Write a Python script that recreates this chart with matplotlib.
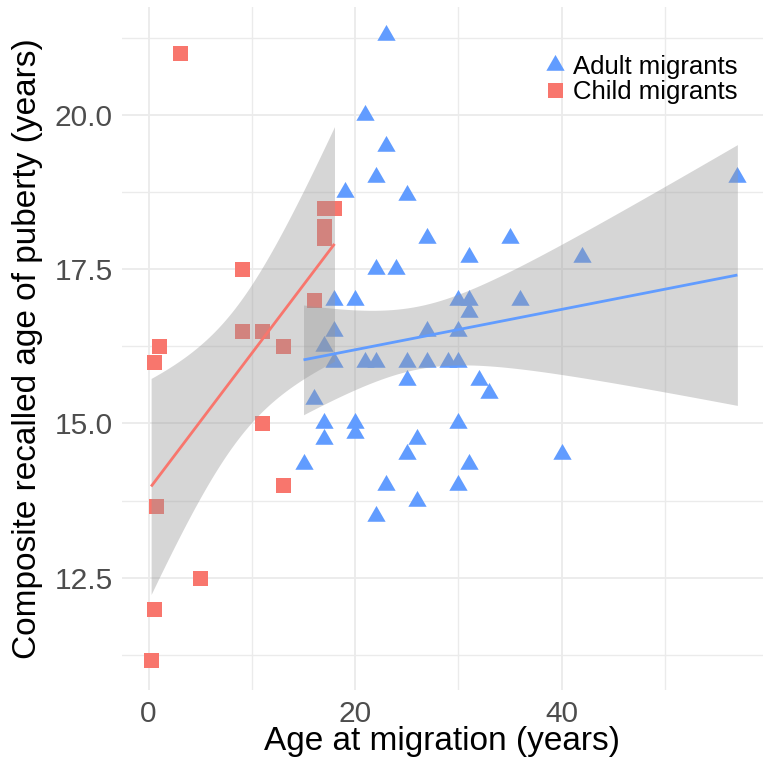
import numpy as np
import matplotlib.pyplot as plt
from matplotlib.lines import Line2D

# Adult migrants (age at migration, composite recalled age of puberty)
ADULT_AGE = [23, 21, 23, 22, 19, 25, 27, 35, 57, 31, 42, 22, 24, 18, 20, 30,
             31, 36, 31, 18, 27, 30, 17, 18, 21, 22, 25, 27, 29, 30, 25, 32,
             33, 16, 17, 20, 30, 17, 20, 26, 15, 25, 31, 40, 23, 30, 26, 22]
ADULT_PUBERTY = [21.3, 20.0, 19.5, 19.0, 18.75, 18.7, 18.0, 18.0, 19.0, 17.7,
                 17.7, 17.5, 17.5, 17.0, 17.0, 17.0, 17.0, 17.0, 16.8, 16.5,
                 16.5, 16.5, 16.25, 16.0, 16.0, 16.0, 16.0, 16.0, 16.0, 16.0,
                 15.7, 15.7, 15.5, 15.4, 15.0, 15.0, 15.0, 14.75, 14.85, 14.75,
                 14.35, 14.5, 14.35, 14.5, 14.0, 14.0, 13.75, 13.5]

# Child migrants
CHILD_AGE = [3, 17, 18, 17, 17, 9, 16, 9, 11, 13, 1, 0.5, 11, 13, 0.75, 5,
             0.5, 0.5, 0.25]
CHILD_PUBERTY = [21.0, 18.5, 18.5, 18.2, 18.0, 17.5, 17.0, 16.5, 16.5, 16.25,
                 16.25, 16.0, 15.0, 14.0, 13.67, 12.5, 12.0, 12.0, 11.17]

LABELS = ["Adult migrants", "Child migrants"]
X_MAJOR = [0, 20, 40]
X_MINOR = [10, 30, 50]
Y_MAJOR = [12.5, 15.0, 17.5, 20.0]
Y_MINOR = [11.25, 13.75, 16.25, 18.75, 21.25]

BLUE = "#619CFF"
RED = "#F8766D"
BAND = "#999999"
GRID = "#EBEBEB"
TRI = (3, 0, 0)


def t975(df):
    # Cornish-Fisher approximation of the 97.5% t quantile (no scipy here)
    z = 1.959964
    return (z + (z**3 + z) / (4 * df)
            + (5 * z**5 + 16 * z**3 + 3 * z) / (96 * df**2)
            + (3 * z**7 + 19 * z**5 + 17 * z**3 - 15 * z) / (384 * df**3))


def lm_band(x, y, n_grid=80):
    x = np.asarray(x, float)
    y = np.asarray(y, float)
    slope, icept = np.polyfit(x, y, 1)
    xs = np.linspace(x.min(), x.max(), n_grid)
    fit = icept + slope * xs
    df = len(x) - 2
    s = np.sqrt(np.sum((y - (icept + slope * x)) ** 2) / df)
    sxx = np.sum((x - x.mean()) ** 2)
    hw = t975(df) * s * np.sqrt(1 / len(x) + (xs - x.mean()) ** 2 / sxx)
    return xs, fit, fit - hw, fit + hw


plt.rcParams["font.family"] = ["Liberation Sans", "DejaVu Sans"]

W, H = 763, 765
fig = plt.figure(figsize=(W / 100, H / 100), dpi=100)
ax = fig.add_axes([122 / W, 75 / H, 641 / W, 683 / H])

ax.scatter(ADULT_AGE, ADULT_PUBERTY, marker=TRI, s=15.2**2, color=BLUE,
           linewidths=0, zorder=2)
ax.scatter(CHILD_AGE, CHILD_PUBERTY, marker="s", s=10.8**2, color=RED,
           linewidths=0, zorder=2)

for xv, yv, col in [(ADULT_AGE, ADULT_PUBERTY, BLUE),
                    (CHILD_AGE, CHILD_PUBERTY, RED)]:
    xs, fit, lo, hi = lm_band(xv, yv)
    ax.fill_between(xs, lo, hi, color=BAND, alpha=0.4, linewidth=0, zorder=3)
    ax.plot(xs, fit, color=col, linewidth=2.0, zorder=4,
            solid_capstyle="butt")

ax.set_xlim(-2.57, 59.48)
ax.set_ylim(10.68, 21.75)
ax.set_xticks(X_MAJOR)
ax.set_xticks(X_MINOR, minor=True)
ax.set_yticks(Y_MAJOR)
ax.set_yticklabels([f"{v:.1f}" for v in Y_MAJOR])
ax.set_yticks(Y_MINOR, minor=True)
ax.grid(True, which="major", color=GRID, linewidth=1.3, zorder=0)
ax.grid(True, which="minor", color=GRID, linewidth=1.0, zorder=0)
ax.set_axisbelow(True)
for sp in ax.spines.values():
    sp.set_visible(False)
ax.tick_params(which="both", length=0)
ax.tick_params(axis="x", labelsize=21.5, labelcolor="#4D4D4D", pad=7)
ax.tick_params(axis="y", labelsize=21.5, labelcolor="#4D4D4D", pad=6.5)

ax.set_xlabel("Age at migration (years)", fontsize=24)
ax.set_ylabel("Composite recalled age of puberty (years)", fontsize=24)
ax.xaxis.set_label_coords(0.5, -0.052)
ax.yaxis.set_label_coords(-0.123, 0.5)

handles = [
    Line2D([], [], marker=TRI, ls="", color=BLUE, markersize=15.2,
           markeredgewidth=0),
    Line2D([], [], marker="s", ls="", color=RED, markersize=10.8,
           markeredgewidth=0),
]
fig.legend(handles, LABELS, loc="upper left",
           bbox_to_anchor=(541.8 / W, 1 - 55 / H), frameon=False,
           fontsize=18.5, handlelength=1.0, handletextpad=0.2,
           labelspacing=0.02, borderpad=0, borderaxespad=0)

fig.savefig("out.png", dpi=100)
